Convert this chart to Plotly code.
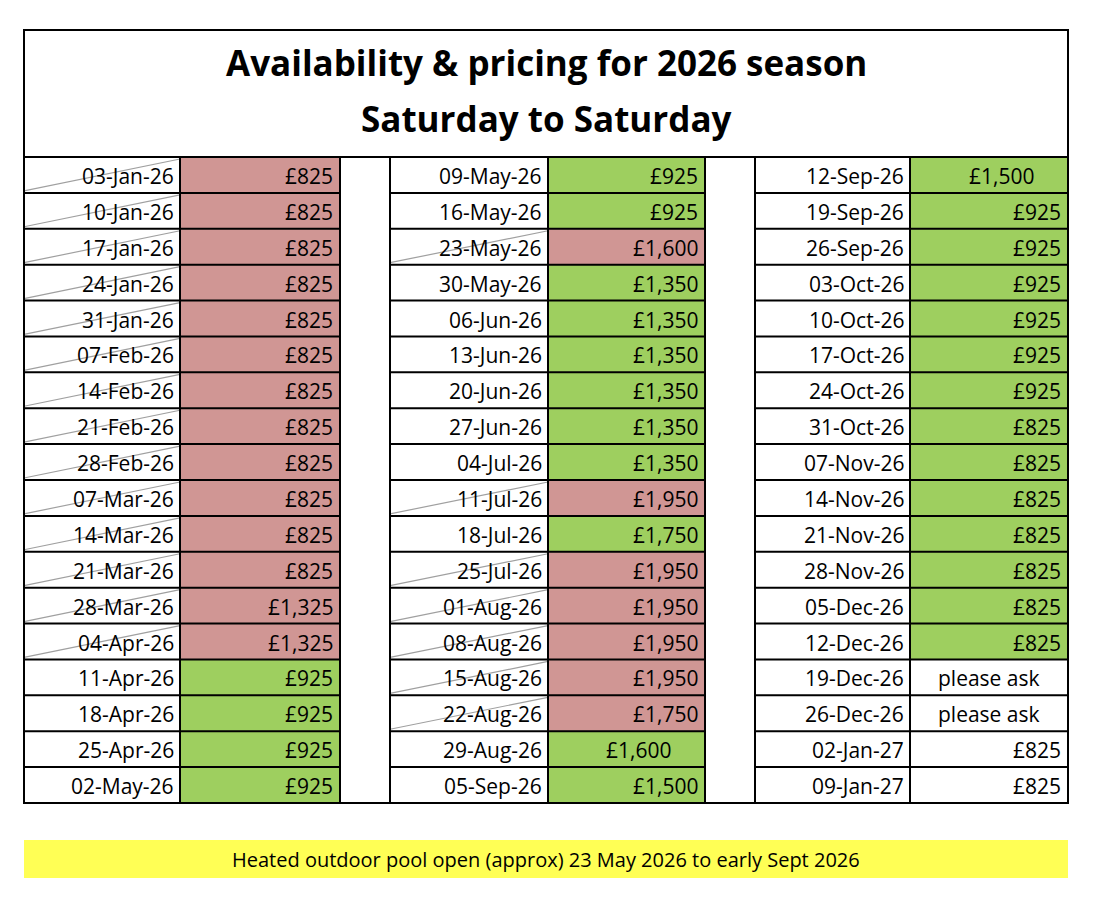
import plotly.graph_objects as go

title_lines = ["Availability & pricing for 2026 season", "Saturday to Saturday"]
footer = "Heated outdoor pool open (approx) 23 May 2026 to early Sept 2026"

dates1 = ["03-Jan-26","10-Jan-26","17-Jan-26","24-Jan-26","31-Jan-26","07-Feb-26","14-Feb-26","21-Feb-26","28-Feb-26","07-Mar-26","14-Mar-26","21-Mar-26","28-Mar-26","04-Apr-26","11-Apr-26","18-Apr-26","25-Apr-26","02-May-26"]
prices1 = ["£825"]*12 + ["£1,325","£1,325","£925","£925","£925","£925"]
status1 = ["booked"]*14 + ["free"]*4

dates2 = ["09-May-26","16-May-26","23-May-26","30-May-26","06-Jun-26","13-Jun-26","20-Jun-26","27-Jun-26","04-Jul-26","11-Jul-26","18-Jul-26","25-Jul-26","01-Aug-26","08-Aug-26","15-Aug-26","22-Aug-26","29-Aug-26","05-Sep-26"]
prices2 = ["£925","£925","£1,600","£1,350","£1,350","£1,350","£1,350","£1,350","£1,350","£1,950","£1,750","£1,950","£1,950","£1,950","£1,950","£1,750","£1,600","£1,500"]
status2 = ["free","free","booked","free","free","free","free","free","free","booked","free","booked","booked","booked","booked","booked","free","free"]

dates3 = ["12-Sep-26","19-Sep-26","26-Sep-26","03-Oct-26","10-Oct-26","17-Oct-26","24-Oct-26","31-Oct-26","07-Nov-26","14-Nov-26","21-Nov-26","28-Nov-26","05-Dec-26","12-Dec-26","19-Dec-26","26-Dec-26","02-Jan-27","09-Jan-27"]
prices3 = ["£1,500"] + ["£925"]*6 + ["£825"]*7 + ["please ask","please ask","£825","£825"]
status3 = ["free"]*14 + ["none"]*4

COLORS = {"booked": "#D09694", "free": "#9ECF5F", "none": "white"}
FONT = "Open Sans"

L, R, T, B = 24, 1068, 30, 803
HDR = 157
cols = [(24, 180, 340), (390, 548, 705), (755, 910, 1068)]
nrows = 18
rh = (B - HDR) / nrows

shapes, ann = [], []
def line(x0, y0, x1, y1, color="black", w=2):
    shapes.append(dict(type="line", x0=x0, y0=y0, x1=x1, y1=y1, xref="x", yref="y",
                       line=dict(color=color, width=w)))

for (xa, xb, xc), dates, prices, stats in zip(cols, [dates1, dates2, dates3],
                                             [prices1, prices2, prices3],
                                             [status1, status2, status3]):
    for i, (d, p, s) in enumerate(zip(dates, prices, stats)):
        y0 = HDR + i * rh
        y1 = y0 + rh
        shapes.append(dict(type="rect", x0=xb, x1=xc, y0=y0, y1=y1, xref="x", yref="y",
                           fillcolor=COLORS[s], line=dict(width=0), layer="below"))
        if s == "booked":
            line(xa, y1 - 2, xb, y0 + 2, color="#A0A0A0", w=1.2)
        ann.append(dict(x=xb - 4, y=(y0 + y1) / 2 + 1, text=d, xanchor="right", showarrow=False,
                        font=dict(family=FONT, size=21, color="black")))
        centered = p.startswith("please") or (p in ("£1,500", "£1,600") and s == "free" and i in (0, 16))
        if centered:
            cx = (xb + xc) / 2 + (0 if p.startswith("please") else 12)
            ann.append(dict(x=cx, y=(y0 + y1) / 2 + 1, text=p, xanchor="center", showarrow=False,
                            font=dict(family=FONT, size=21, color="black")))
        else:
            ann.append(dict(x=xc - 5, y=(y0 + y1) / 2 + 1, text=p, xanchor="right", showarrow=False,
                            font=dict(family=FONT, size=21, color="black")))
    for i in range(1, nrows):
        line(xa, HDR + i * rh, xc, HDR + i * rh)
    for x in (xa, xb, xc):
        line(x, HDR, x, B)

line(L, HDR, R, HDR)
shapes.append(dict(type="rect", x0=L, x1=R, y0=T, y1=B, xref="x", yref="y",
                   line=dict(color="black", width=2)))

ann.append(dict(x=(L + R) / 2, y=62, text="<b>" + title_lines[0] + "</b>", showarrow=False,
                font=dict(family=FONT, size=35, color="black")))
ann.append(dict(x=(L + R) / 2, y=118, text="<b>" + title_lines[1] + "</b>", showarrow=False,
                font=dict(family=FONT, size=35, color="black")))

shapes.append(dict(type="rect", x0=24, x1=1068, y0=840, y1=878, xref="x", yref="y",
                   fillcolor="#FFFF55", line=dict(width=0), layer="below"))
ann.append(dict(x=546, y=859, text=footer, showarrow=False,
                font=dict(family=FONT, size=20, color="black")))

fig = go.Figure()
# page has an 8px body margin, so offset the coordinate frame to keep pixel alignment
fig.update_layout(width=1110, height=920, margin=dict(l=0, r=0, t=0, b=0),
                  paper_bgcolor="white", plot_bgcolor="white",
                  xaxis=dict(range=[8, 1118], visible=False, fixedrange=True),
                  yaxis=dict(range=[928, 8], visible=False, fixedrange=True),
                  shapes=shapes, annotations=ann, showlegend=False)
fig.write_html("out.html", config={"displayModeBar": False})
